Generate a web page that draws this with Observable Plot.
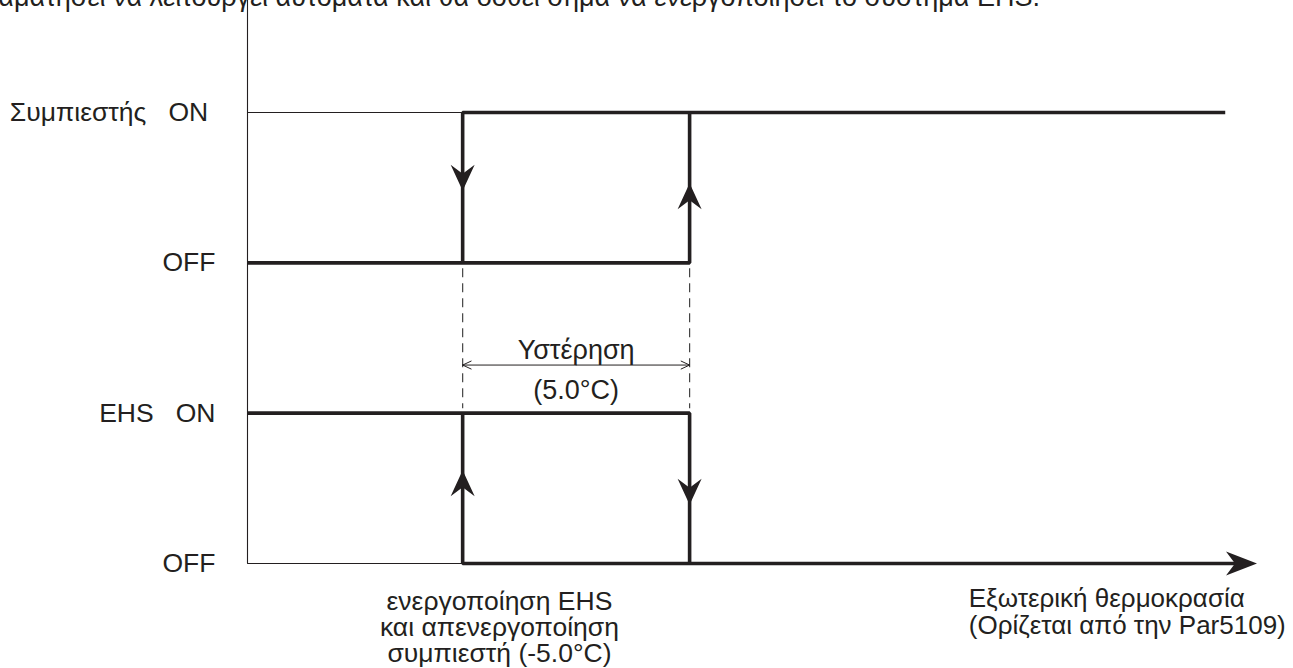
<!DOCTYPE html>
<html>
<head>
<meta charset="utf-8">
<script src="https://cdn.jsdelivr.net/npm/d3@7"></script>
<script src="https://cdn.jsdelivr.net/npm/@observablehq/plot@0.6"></script>
<style>
  html, body { margin: 0; padding: 0; background: white; overflow: hidden; }
  #wrap { position: relative; width: 1293px; height: 668px; overflow: hidden; }
  #note { position: absolute; right: 253px; top: -16px; white-space: nowrap;
          font: 27px "Liberation Sans", Arial, sans-serif; line-height: 27px; color: #231f20; }
  #chart { position: absolute; left: 0; top: 0; }
</style>
</head>
<body>
<div id="wrap">
  <div id="chart"></div>
  <div id="note">σταματήσει να λειτουργεί αυτόματα και θα δοθεί σήμα να ενεργοποιήσει το σύστημα EHS.</div>
</div>
<script>
// ---- data (temperature in °C on x, state level on y) ----
const stateLevels = [3, 2, 1, 0];
const stateLabels = ["Συμπιεστής\u00a0\u00a0\u00a0ON\u00a0", "OFF", "EHS\u00a0\u00a0\u00a0ON", "OFF"];
const tSwitch = -5.0;          // EHS on / compressor off
const hysteresis = 5.0;        // Υστέρηση
const tRelease = tSwitch + hysteresis; // 0.0
const tStart = -9.74;          // origin of the temperature axis
const tLineEnd = 11.8;         // end of compressor ON line
const tAxisEnd = 12.5;         // tip of temperature axis arrow
const axisTop = 3.75;

// compressor curve
const compOff = [{t: tStart, s: 2}, {t: tRelease, s: 2}, {t: tRelease, s: 3}];
const compOn = [{t: tSwitch, s: 2}, {t: tSwitch, s: 3}, {t: tLineEnd, s: 3}];
const compGuide = [{t: tStart, s: 3}, {t: tSwitch, s: 3}];
// EHS curve
const ehsOn = [{t: tStart, s: 1}, {t: tRelease, s: 1}, {t: tRelease, s: 0}];
const ehsOff = [{t: tSwitch, s: 1}, {t: tSwitch, s: 0}, {t: tAxisEnd - 0.4, s: 0}];
const ehsGuide = [{t: tStart, s: 0}, {t: tSwitch, s: 0}];

// arrowheads (tip positions)
const downArrows = [{t: tSwitch, s: 2.48}, {t: tRelease, s: 0.39}];
const upArrows = [{t: tRelease, s: 2.53}, {t: tSwitch, s: 0.62}];
const rightArrows = [{t: tAxisEnd, s: 0}];

// dashed guides and hysteresis dimension
const dashedGuides = [tSwitch, tRelease];
const dimY = 1.32;
const hystLabels = [
  {t: (tSwitch + tRelease) / 2, s: 1.42, label: "Υστέρηση"},
  {t: (tSwitch + tRelease) / 2, s: 1.15, label: "(5.0°C)"}
];
const bottomLabel = [{t: -4.19, s: 0, label: "ενεργοποίηση EHS\nκαι απενεργοποίηση\nσυμπιεστή (-5.0°C)"}];
const axisLabel = [{t: 6.15, s: 0, label: "Εξωτερική θερμοκρασία\n(Ορίζεται από την Par5109)"}];

const ink = "#231f20";
const arrowDown = {draw(c) { c.moveTo(0, 0); c.lineTo(-12, -26); c.lineTo(0, -17); c.lineTo(12, -26); c.closePath(); }};
const arrowUp = {draw(c) { c.moveTo(0, 0); c.lineTo(-12, 26); c.lineTo(0, 17); c.lineTo(12, 26); c.closePath(); }};
const arrowRight = {draw(c) { c.moveTo(0, 0); c.lineTo(-31, -12); c.lineTo(-22, 0); c.lineTo(-31, 12); c.closePath(); }};

const thick = {x: "t", y: "s", stroke: ink, strokeWidth: 3.6, strokeLinejoin: "miter", strokeLinecap: "butt"};
const thin = {x: "t", y: "s", stroke: ink, strokeWidth: 1.1};

const chart = Plot.plot({
  width: 1293,
  height: 668,
  marginLeft: 247,
  marginRight: 36.5,
  marginTop: 112,
  marginBottom: 105,
  x: {domain: [tStart, tAxisEnd], axis: null},
  y: {domain: [0, 3], axis: "left", ticks: stateLevels,
      tickFormat: d => stateLabels[stateLevels.indexOf(d)], tickSize: 0, tickPadding: 32, label: null},
  style: {fontFamily: "'Liberation Sans', Arial, sans-serif", fontSize: "26.5px", color: ink, background: "white", overflow: "visible"},
  marks: [
    Plot.ruleX([tStart], {y1: 0, y2: axisTop, stroke: ink, strokeWidth: 1.1}),
    Plot.line(compGuide, thin),
    Plot.line(ehsGuide, thin),
    Plot.ruleX(dashedGuides, {x: d => d, y1: 1.96, y2: 1.03, stroke: "#444", strokeWidth: 1.2, strokeDasharray: "9,6"}),
    Plot.line(compOff, thick),
    Plot.line(compOn, thick),
    Plot.line(ehsOn, thick),
    Plot.line(ehsOff, thick),
    Plot.dot(downArrows, {x: "t", y: "s", symbol: arrowDown, fill: ink, stroke: "none"}),
    Plot.dot(upArrows, {x: "t", y: "s", symbol: arrowUp, fill: ink, stroke: "none"}),
    Plot.dot(rightArrows, {x: "t", y: "s", symbol: arrowRight, fill: ink, stroke: "none"}),
    Plot.arrow([tSwitch, tRelease], {x1: (tSwitch + tRelease) / 2, y1: dimY, x2: d => d, y2: dimY,
      stroke: ink, strokeWidth: 1, headLength: 14, headAngle: 50}),
    Plot.text(hystLabels, {x: "t", y: "s", text: "label", textAnchor: "middle", lineAnchor: "middle", fill: ink, fontSize: 27}),
    Plot.text(bottomLabel, {x: "t", y: "s", text: "label", textAnchor: "middle", lineAnchor: "top", dy: 28, lineHeight: 0.98, fill: ink, fontSize: 26.5}),
    Plot.text(axisLabel, {x: "t", y: "s", text: "label", textAnchor: "start", lineAnchor: "top", dy: 24, lineHeight: 1.04, fill: ink, fontSize: 26})
  ]
});
document.getElementById("chart").appendChild(chart);
</script>
</body>
</html>
